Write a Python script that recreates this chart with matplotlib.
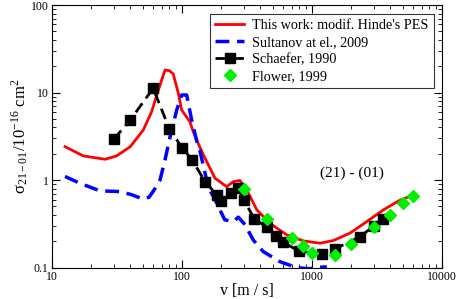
import numpy as np
import matplotlib
matplotlib.use("Agg")
from matplotlib import pyplot as plt
from matplotlib.ticker import LogLocator, NullFormatter, FixedLocator, FixedFormatter

plt.rcParams['font.family'] = ['Liberation Serif', 'DejaVu Serif']
plt.rcParams['mathtext.fontset'] = 'stix'

# this work (red line)
v_this = [12.6, 17.4, 25.6, 31.4, 40, 50.4, 58.4, 65.8, 74, 80, 85.7, 93.7, 99.5, 115, 122, 133,
          146, 179.5, 221, 248, 279, 315, 376, 475, 638, 857, 1153, 1460, 1960, 2640, 3540, 4750, 5850]
s_this = [2.41, 1.89, 1.73, 1.89, 2.41, 3.74, 6.05, 10.7, 18.1, 17.8, 16.3, 9.8, 6.3, 4.65, 3.58, 2.64,
          1.94, 1.05, 0.84, 0.96, 0.99, 0.77, 0.457, 0.32, 0.237, 0.202, 0.19, 0.204, 0.248, 0.336, 0.457, 0.59, 0.665]

# Sultanov et al., 2009 (blue dashed)
v_sult = [12.6, 16.4, 23.4, 33.3, 41, 50.4, 56, 62, 67.7, 74, 81, 91, 99.5, 108.6, 118.6, 122, 133, 137,
          159, 185, 213, 248, 271, 305, 353, 420, 566, 760, 950, 1150, 1300]
s_sult = [1.1, 0.92, 0.753, 0.74, 0.68, 0.605, 0.64, 0.8, 1.0, 1.70, 3.14, 6.3, 9.4, 9.4, 4.86, 4.08, 2.41, 2.2,
          0.84, 0.545, 0.352, 0.336, 0.377, 0.31, 0.207, 0.153, 0.117, 0.1, 0.097, 0.101, 0.102]

# Schaefer, 1990 (black squares)
v_scha = [30, 40, 60, 80, 100, 120, 150, 185, 200, 240, 270, 300, 360, 450, 530, 600, 800, 1200, 1500, 2340, 3000, 3500]
s_scha = [2.95, 4.86, 11.2, 3.84, 2.35, 1.70, 0.96, 0.68, 0.57, 0.72, 0.81, 0.59, 0.36, 0.29, 0.23, 0.195, 0.153, 0.144, 0.163, 0.226, 0.30, 0.36]

# Flower, 1999 (green diamonds)
v_flow = [300, 450, 700, 850, 1000, 1500, 2000, 3000, 4000, 5000, 6000]
s_flow = [0.79, 0.36, 0.217, 0.177, 0.147, 0.14, 0.187, 0.294, 0.394, 0.545, 0.65]

fig = plt.figure(figsize=(4.6, 2.99), dpi=100)
ax = fig.add_axes([0.113, 0.105, 0.848, 0.878])

ax.plot(v_this, s_this, color='red', lw=2, label="This work: modif. Hinde's PES")
ax.plot(v_sult, s_sult, color='blue', lw=2.5, dashes=(4, 2.2), label='Sultanov at el., 2009')
ax.plot(v_scha, s_scha, color='black', lw=2, dashes=(4, 2.2), marker='s', markersize=6.5,
        label='Schaefer, 1990')
ax.plot(v_flow, s_flow, ls='none', marker='D', color='#00ee00', markersize=6, label='Flower, 1999')

ax.set_xscale('log')
ax.set_yscale('log')
ax.set_xlim(10, 10000)
ax.set_ylim(0.1, 100)

ax.xaxis.set_major_locator(FixedLocator([10, 100, 1000, 10000]))
ax.xaxis.set_major_formatter(FixedFormatter(['10', '100', '1000', '10000']))
ax.yaxis.set_major_locator(FixedLocator([0.1, 1, 10, 100]))
ax.yaxis.set_major_formatter(FixedFormatter(['0.1', '1', '10', '100']))
ax.xaxis.set_minor_locator(LogLocator(base=10, subs=np.arange(2, 10)))
ax.yaxis.set_minor_locator(LogLocator(base=10, subs=np.arange(2, 10)))
ax.xaxis.set_minor_formatter(NullFormatter())
ax.yaxis.set_minor_formatter(NullFormatter())
ax.tick_params(which='both', direction='in', top=True, right=True, labelsize=8.5)
ax.tick_params(which='major', length=6, pad=2.5)
ax.tick_params(which='minor', length=3)

ax.set_xlabel('v [m / s]', fontsize=11.5, labelpad=0)
ax.set_ylabel(r'σ$_{\mathregular{21-01}}$/10$^{\mathregular{-16}}$ cm$^{\mathregular{2}}$', fontsize=12, labelpad=0)

ax.text(2030, 1.2, '(21) - (01)', fontsize=11, ha='center', va='center')

leg = ax.legend(loc='upper right', fontsize=10.2, frameon=True, fancybox=False,
                edgecolor='black', borderaxespad=0.6, handlelength=2.0, handletextpad=0.6,
                labelspacing=0.3, borderpad=0.35)
leg.get_frame().set_linewidth(0.8)

fig.savefig('out.png', dpi=100)
